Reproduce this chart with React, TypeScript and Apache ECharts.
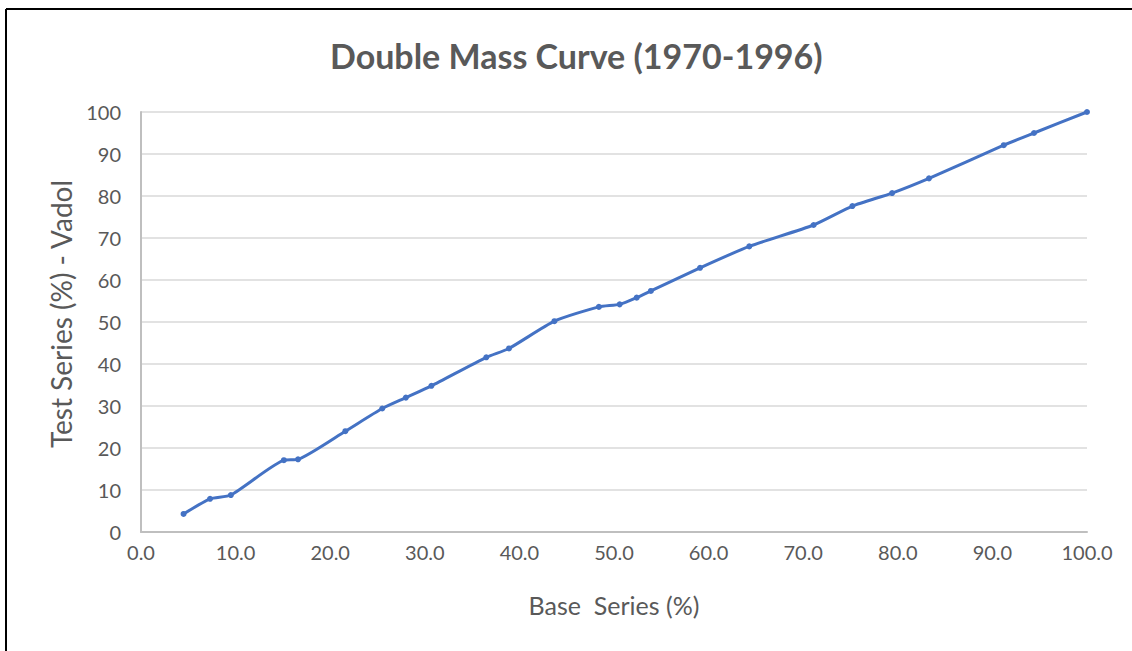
import React, { useEffect, useRef } from "react";
import * as echarts from "echarts";

const baseSeries = [4.5, 7.3, 9.5, 15.1, 16.6, 21.6, 25.5, 28.0, 30.7, 36.5, 38.9, 43.7, 48.4, 50.6, 52.4, 53.9, 59.1, 64.3, 71.1, 75.2, 79.4, 83.3, 91.2, 94.4, 100.0];
const testSeries = [4.3, 7.9, 8.8, 17.1, 17.3, 24.0, 29.4, 32.0, 34.8, 41.6, 43.7, 50.2, 53.6, 54.2, 55.8, 57.4, 62.9, 68.0, 73.1, 77.6, 80.7, 84.2, 92.1, 95.0, 100.0];

const titleText = "Double Mass Curve (1970-1996)";
const xAxisName = "Base  Series (%)";
const yAxisName = "Test Series (%) - Vadol";

const FONT = "Lato, 'Open Sans', sans-serif";
const GRAY = "#595959";

export default function App() {
  const ref = useRef<HTMLDivElement>(null);
  useEffect(() => {
    document.body.style.margin = "0";
    const chart = echarts.init(ref.current!, null, { renderer: "svg" });
    const data = baseSeries.map((x, i) => [x, testSeries[i]]);
    chart.setOption({
      animation: false,
      backgroundColor: "#ffffff",
      title: {
        text: titleText,
        left: 325,
        top: 33,
        textStyle: { color: GRAY, fontSize: 34, fontWeight: "bold", fontFamily: FONT },
      },
      grid: { left: 141, right: 45, top: 112, bottom: 119, containLabel: false },
      xAxis: {
        type: "value",
        min: 0,
        max: 100,
        interval: 10,
        name: xAxisName,
        nameLocation: "middle",
        nameGap: 60,
        nameTextStyle: { color: GRAY, fontSize: 25, fontFamily: FONT },
        axisLine: { show: true, lineStyle: { color: "#BFBFBF", width: 2 } },
        axisTick: { show: false },
        splitLine: { show: false },
        axisLabel: {
          color: GRAY,
          fontSize: 20,
          fontFamily: FONT,
          margin: 10,
          formatter: (v: number) => v.toFixed(1),
        },
      },
      yAxis: {
        type: "value",
        min: 0,
        max: 100,
        interval: 10,
        name: yAxisName,
        nameLocation: "middle",
        nameGap: 66,
        nameRotate: 90,
        nameTextStyle: { color: GRAY, fontSize: 28, fontFamily: FONT, padding: [0, 0, 0, 16] },
        axisLine: { show: true, lineStyle: { color: "#BFBFBF", width: 2 } },
        axisTick: { show: false },
        splitLine: { show: true, lineStyle: { color: "#D9D9D9", width: 1.5 } },
        axisLabel: { color: GRAY, fontSize: 20, fontFamily: FONT, margin: 20 },
      },
      series: [
        {
          type: "line",
          data,
          smooth: 0.2,
          symbol: "circle",
          symbolSize: 6,
          lineStyle: { color: "#4472C4", width: 3 },
          itemStyle: { color: "#4472C4" },
        },
      ],
      graphic: [
        { type: "line", shape: { x1: 6, y1: 9, x2: 6, y2: 651 }, style: { stroke: "#000", lineWidth: 2 } },
        { type: "line", shape: { x1: 6, y1: 9, x2: 1132, y2: 9 }, style: { stroke: "#000", lineWidth: 2 } },
      ],
    });
    return () => chart.dispose();
  }, []);
  return <div ref={ref} style={{ position: "absolute", left: 0, top: 0, width: 1132, height: 651 }} />;
}
